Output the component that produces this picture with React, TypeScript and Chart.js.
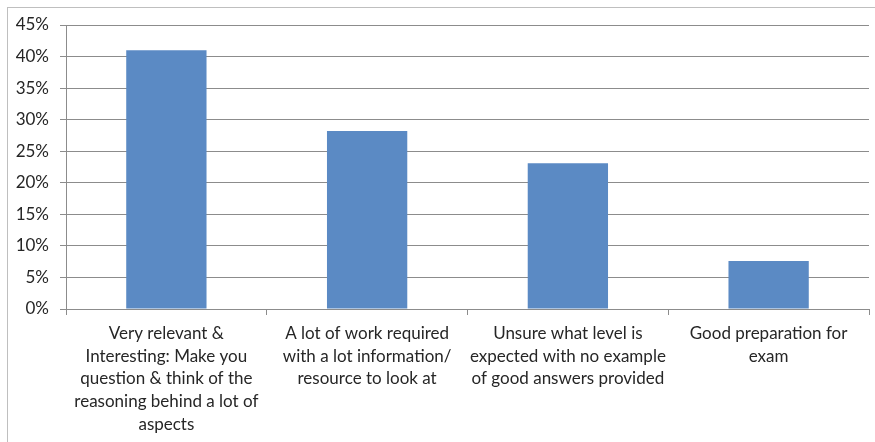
import React, { useEffect, useRef } from "react";
import { Chart, registerables } from "chart.js";

Chart.register(...registerables);

const categories: string[][] = [
  ["Very relevant &", "Interesting: Make you", "question & think of the", "reasoning behind a lot of", "aspects"],
  ["A lot of work required", "with a lot information/", "resource to look at"],
  ["Unsure what level is", "expected with no example", "of good answers provided"],
  ["Good preparation for", "exam"],
];
const values: number[] = [41.0, 28.2, 23.1, 7.6];
const yTicks: number[] = [0, 5, 10, 15, 20, 25, 30, 35, 40, 45];

const FONT = "Lato, 'Open Sans', sans-serif";

export default function App() {
  const ref = useRef<HTMLCanvasElement | null>(null);
  useEffect(() => {
    if (!ref.current) return;
    const chart = new Chart(ref.current, {
      type: "bar",
      data: {
        labels: categories,
        datasets: [
          {
            data: values,
            backgroundColor: "#5B8AC4",
            borderWidth: 0,
            barPercentage: 0.4,
            categoryPercentage: 1,
          },
        ],
      },
      options: {
        responsive: false,
        animation: false,
        devicePixelRatio: 1,
        layout: { padding: { top: 25, right: 6, left: 0, bottom: 0 } },
        plugins: { legend: { display: false }, tooltip: { enabled: false } },
        scales: {
          x: {
            grid: {
              display: true,
              drawOnChartArea: false,
              drawTicks: true,
              tickLength: 6,
              color: "#8c8c8c",
              offset: true,
            },
            border: { display: true, color: "#8c8c8c" },
            ticks: {
              color: "#262626",
              font: { family: FONT, size: 17, lineHeight: 1.34 },
              maxRotation: 0,
              minRotation: 0,
              autoSkip: false,
              padding: 7,
            },
            afterFit: (s: any) => {
              s.height = 133;
            },
          },
          y: {
            min: 0,
            max: 45,
            afterBuildTicks: (s: any) => {
              s.ticks = yTicks.map((v) => ({ value: v }));
            },
            grid: {
              color: "#8c8c8c",
              drawTicks: true,
              tickLength: 6,
            },
            border: { display: true, color: "#8c8c8c" },
            ticks: {
              color: "#262626",
              font: { family: FONT, size: 17 },
              padding: 11,
              callback: (v: any) => v + "%",
            },
            afterFit: (s: any) => {
              s.width = 66;
            },
          },
        },
      },
    });
    return () => chart.destroy();
  }, []);

  return (
    <div
      style={{
        position: "fixed",
        left: 0,
        top: 0,
        width: 875,
        height: 442,
        overflow: "hidden",
        background: "#fff",
      }}
    >
      <div
        style={{
          position: "absolute",
          left: 7,
          top: 7,
          width: 900,
          height: 460,
          border: "1px solid #bfbfbf",
          boxSizing: "border-box",
        }}
      />
      <canvas
        ref={ref}
        width={875}
        height={442}
        style={{ position: "absolute", left: 0, top: 0, width: 875, height: 442 }}
      />
    </div>
  );
}
